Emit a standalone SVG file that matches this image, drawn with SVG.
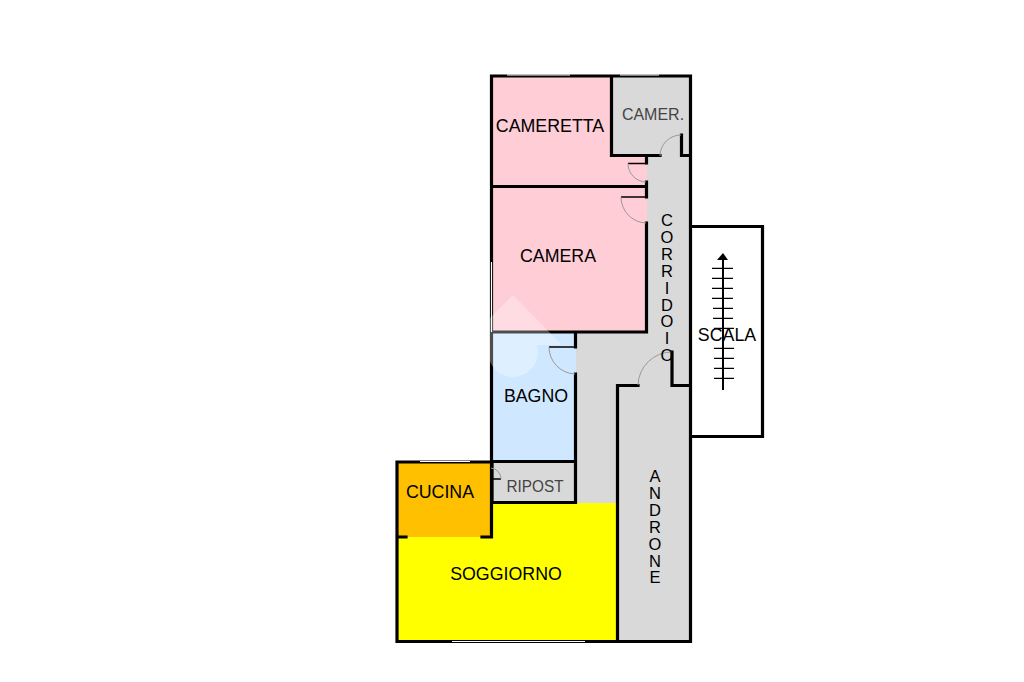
<svg xmlns="http://www.w3.org/2000/svg" width="1024" height="682" viewBox="0 0 1024 682">
<style>
text{font-family:"Liberation Sans",Arial,sans-serif;font-size:17.800px;fill:#000;text-anchor:middle}
.thin{fill:#444}
.v{font-size:16.500px;writing-mode:vertical-rl;text-orientation:upright;text-anchor:start}
.w{fill:none;stroke:#000;stroke-width:3.200;stroke-linecap:square}
.t{fill:none;stroke:#000;stroke-width:1.500}
.d{fill:none;stroke:#999;stroke-width:1}
.win{stroke:#fff;stroke-width:1.200;fill:none}
.r{fill:none;stroke:#000;stroke-width:1.200}
</style>
<rect width="1024" height="682" fill="#fff"/>
<g id="rooms">
<rect id="cameretta" x="492" y="75" width="155" height="111" fill="#ffcdd6"/>
<rect id="camera" x="492" y="186" width="155" height="146" fill="#ffcdd6"/>
<rect id="camer" x="611" y="75" width="80" height="81" fill="#d9d9d9"/>
<rect id="bagno" x="492" y="332" width="84" height="130" fill="#d0e8ff"/>
<rect id="ripost" x="492" y="462" width="84" height="41" fill="#d9d9d9"/>
<polygon id="corridoio" points="647,156 691,156 691,641 617,641 617,503 576,503 576,332 647,332" fill="#d9d9d9"/>
<rect id="soggiorno" x="397" y="503" width="220" height="138" fill="#ffff00"/>
<rect x="397" y="537" width="95" height="10" fill="#ffff00"/>
<rect id="cucina" x="397" y="462" width="95" height="75" fill="#ffc000"/>
<rect id="scala" x="691" y="226" width="72" height="211" fill="#fff"/>
</g>
<g id="walls">
<path class="w" d="M491.500,76V462M491.500,76H690.500V641.500H397V462H491.500V537M397,537H406M482,537H491M611.500,76V155.500H660M681.500,135V155.500H690.500"/>
<path class="w" d="M646.500,156V163M646.500,182V197M646.500,223V332H492M492,186.500H646.500M575.500,332V347M575.500,374V502.500H492V462M492,461.500H575.500"/>
<path class="w" d="M617.500,641V385.500H638M672,352V385.500H690"/>
<path class="w" d="M691,226.500H762.500V436.500H691"/>
</g>
<g id="watermark" fill="#fff" opacity="0.3">
<path d="M513,295L560,343V345H535A28,28 0 0 0 490,345V318Z"/>
<circle cx="513" cy="352" r="25"/>
</g>
<g id="doors">
<path class="t" d="M628,163.500H646M621,197H646M549,347H575M491,479H501"/>
<path class="d" d="M660,156A21,21 0 0 1 681,135M628,163.500A18.500,18.500 0 0 0 646,182M621,197A26,26 0 0 0 646,223M549,347A27,27 0 0 0 575,374M638,385A34,34 0 0 1 672,352M491,468A11,11 0 0 1 501,479"/>
</g>
<g id="windows">
<path class="win" d="M507,75H570M620,75H659M420,461.500H470M452,641.500H585M491.500,262V332"/>
</g>
<g id="stairs">
<path d="M723,258V390" fill="none" stroke="#000" stroke-width="2"/>
<polygon points="723,253 728,260 717,260" fill="#000"/>
<path class="r" d="M712,268.300H733M712,278.300H733M712,288.300H733M712,298.300H733M713,308.300H733M713,318.300H733M714,328.300H734M714,348.300H734M714,358.300H734M714,368.300H734M714,378.300H734"/>
</g>
<g id="labels">
<text x="550" y="132">CAMERETTA</text>
<text class="thin" x="653" y="120" style="font-size:16px">CAMER.</text>
<text x="558" y="262">CAMERA</text>
<text x="536" y="402">BAGNO</text>
<text class="thin" x="535" y="492" style="font-size:16.500px" textLength="57" lengthAdjust="spacingAndGlyphs">RIPOST</text>
<text x="440" y="498">CUCINA</text>
<text x="506" y="580">SOGGIORNO</text>
<text x="727" y="341">SCALA</text>
<text class="v" x="667" y="211" letter-spacing="-1.100">CORRIDOIO</text>
<text class="v" x="655" y="467" letter-spacing="-1.100">ANDRONE</text>
</g>
</svg>
